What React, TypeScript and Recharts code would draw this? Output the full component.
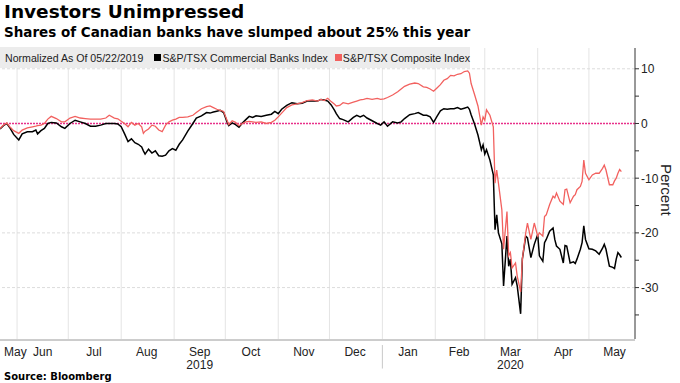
import { Line, LineChart, ReferenceLine, XAxis, YAxis } from 'recharts'

// daily-ish readings, normalized to 05/22/2019 (percent)
const dates = [
  '2019-05-22', '2019-05-24', '2019-05-26', '2019-05-28', '2019-05-30',
  '2019-06-02', '2019-06-04', '2019-06-07', '2019-06-10', '2019-06-12', '2019-06-13', '2019-06-15', '2019-06-17', '2019-06-19', '2019-06-21', '2019-06-24', '2019-06-27', '2019-06-29',
  '2019-07-02', '2019-07-05', '2019-07-08', '2019-07-11', '2019-07-14', '2019-07-17', '2019-07-20', '2019-07-23', '2019-07-25', '2019-07-28', '2019-07-30',
  '2019-08-01', '2019-08-03', '2019-08-05', '2019-08-07', '2019-08-09', '2019-08-11', '2019-08-13', '2019-08-14', '2019-08-15', '2019-08-17', '2019-08-19', '2019-08-21', '2019-08-23', '2019-08-25', '2019-08-27', '2019-08-29', '2019-08-31',
  '2019-09-02', '2019-09-04', '2019-09-06', '2019-09-09', '2019-09-12', '2019-09-14', '2019-09-17', '2019-09-20', '2019-09-22', '2019-09-24', '2019-09-26', '2019-09-28', '2019-09-30',
  '2019-10-02', '2019-10-03', '2019-10-05', '2019-10-07', '2019-10-09', '2019-10-11', '2019-10-13', '2019-10-15', '2019-10-17', '2019-10-19', '2019-10-22', '2019-10-25', '2019-10-28', '2019-10-30',
  '2019-11-01', '2019-11-03', '2019-11-06', '2019-11-09', '2019-11-12', '2019-11-15', '2019-11-18', '2019-11-21', '2019-11-24', '2019-11-26', '2019-11-28', '2019-11-30',
  '2019-12-02', '2019-12-04', '2019-12-05', '2019-12-07', '2019-12-09', '2019-12-12', '2019-12-15', '2019-12-17', '2019-12-19', '2019-12-21', '2019-12-23', '2019-12-26', '2019-12-29', '2019-12-31',
  '2020-01-02', '2020-01-04', '2020-01-07', '2020-01-10', '2020-01-12', '2020-01-14', '2020-01-17', '2020-01-20', '2020-01-22', '2020-01-25', '2020-01-27', '2020-01-29', '2020-01-31',
  '2020-02-02', '2020-02-04', '2020-02-06', '2020-02-08', '2020-02-10', '2020-02-12', '2020-02-14', '2020-02-16', '2020-02-18', '2020-02-20', '2020-02-21', '2020-02-22', '2020-02-24', '2020-02-26', '2020-02-28', '2020-02-29',
  '2020-03-01', '2020-03-02', '2020-03-04', '2020-03-06', '2020-03-07', '2020-03-08', '2020-03-09', '2020-03-11', '2020-03-12', '2020-03-14', '2020-03-15', '2020-03-16', '2020-03-17', '2020-03-19', '2020-03-20', '2020-03-22', '2020-03-23', '2020-03-25', '2020-03-26', '2020-03-28', '2020-03-30',
  '2020-04-01', '2020-04-02', '2020-04-04', '2020-04-05', '2020-04-06', '2020-04-08', '2020-04-10', '2020-04-11', '2020-04-12', '2020-04-14', '2020-04-16', '2020-04-17', '2020-04-18', '2020-04-20', '2020-04-22', '2020-04-23', '2020-04-24', '2020-04-26', '2020-04-27', '2020-04-28', '2020-04-29',
  '2020-05-01', '2020-05-03', '2020-05-05', '2020-05-07', '2020-05-09', '2020-05-10', '2020-05-11', '2020-05-13', '2020-05-15', '2020-05-16', '2020-05-17', '2020-05-18', '2020-05-19', '2020-05-20',
]

const banks = [
  -1.0, -0.4, 0.0, -0.9, -2.0,
  -3.0, -1.9, -1.5, -1.5, -1.2, -1.9, -1.3, -0.9, 0.0, 0.2, 0.1, -0.6, -0.9,
  0.0, 0.6, 0.3, 0.0, -0.5, -0.5, -0.3, 0.0, 0.0, 0.0, -0.1,
  -0.6, -1.9, -3.3, -2.8, -3.5, -3.8, -4.3, -5.0, -5.6, -4.7, -5.4, -5.0, -5.9, -6.0, -5.8, -5.0, -4.6,
  -4.9, -3.8, -3.0, -1.4, 0.0, 1.0, 1.4, 2.0, 1.9, 2.1, 2.25, 2.4, 2.0,
  0.3, -0.4, 0.1, -0.2, -0.7, 0.1, 0.7, 1.3, 1.1, 1.4, 1.3, 1.5, 1.7, 2.2,
  1.8, 2.6, 3.3, 3.8, 3.6, 3.7, 4.1, 4.1, 4.1, 4.4, 4.3, 4.1,
  3.4, 2.4, 1.8, 0.9, 0.7, 0.3, 1.1, 1.5, 1.2, 1.5, 1.0, 0.5, 0.0, -0.3,
  0.3, -0.5, 0.3, 0.1, 0.3, 0.9, 1.6, 1.8, 2.0, 1.5, 1.5, 1.2, 0.2,
  1.3, 2.3, 2.7, 2.6, 2.7, 2.7, 2.9, 2.6, 2.8, 3.0, 2.6, 1.6, -0.1, -2.1, -4.8, -3.9,
  -5.6, -4.8, -6.7, -9.4, -19.4, -16.7, -20.0, -22.0, -29.7, -20.6, -26.1, -24.8, -29.4, -28.2, -29.7, -34.8, -24.8, -20.6, -20.9, -24.5, -22.1,
  -20.3, -24.2, -25.2, -21.8, -21.2, -19.7, -19.1, -21.2, -22.4, -23.0, -25.5, -22.3, -22.4, -25.5, -25.3, -25.6, -24.8, -23.0, -21.8, -18.7, -21.2,
  -22.9, -23.0, -23.3, -23.9, -22.8, -22.1, -23.0, -26.1, -26.3, -26.5, -24.8, -23.6, -24.0, -24.5,
]

const composite = [
  -0.9, -0.3, 0.1, -0.7, -1.3,
  -1.8, -1.2, -0.8, -0.6, -0.5, -0.4, -0.3, 0.0, 0.8, 1.3, 0.9, 0.3, 0.3,
  1.0, 1.3, 1.0, 0.9, 0.8, 0.8, 0.8, 1.0, 1.5, 1.0, 0.85,
  0.4, 0.0, -0.6, 0.2, -0.3, 0.0, -0.6, -1.8, -1.4, -1.0, -0.3, -0.5, -1.2, -1.5, -0.3, 0.3, 0.6,
  0.8, 1.1, 1.1, 1.2, 1.5, 2.0, 2.7, 3.1, 3.2, 2.9, 2.6, 2.4, 2.2,
  0.6, -0.2, 0.5, 0.2, -0.4, 0.0, 0.3, 0.4, 0.3, 0.2, 0.3, 0.0, 0.2, 0.6,
  1.2, 1.9, 2.9, 3.4, 3.6, 3.8, 4.2, 4.3, 4.1, 4.4, 4.2, 4.6,
  4.0, 3.5, 3.2, 3.3, 3.8, 3.6, 3.9, 4.1, 4.3, 4.4, 4.6, 4.4, 4.6, 4.4,
  4.5, 4.75, 5.2, 5.8, 6.3, 6.8, 7.2, 7.4, 7.3, 6.7, 6.6, 6.3, 5.9,
  6.5, 7.1, 7.9, 8.2, 8.8, 8.7, 9.0, 9.1, 9.5, 9.6, 9.2, 7.3, 5.3, 3.2, -0.3, 1.2,
  0.6, 2.5, 1.5, -0.6, -10.9, -8.5, -10.9, -15.8, -23.0, -16.1, -24.2, -23.6, -26.4, -25.5, -27.9, -30.8, -24.8, -20.0, -18.2, -21.2, -18.2,
  -20.6, -20.0, -20.6, -17.0, -16.7, -14.8, -13.3, -13.6, -12.7, -14.2, -14.8, -12.1, -12.0, -14.5, -13.3, -13.0, -12.1, -11.5, -10.6, -6.7, -9.1,
  -10.3, -9.4, -9.1, -9.1, -8.2, -7.6, -8.5, -11.2, -11.2, -10.5, -10.0, -9.1, -8.4, -8.8,
]

const xRange = ['2019-05-22', '2020-05-28']
const monthStarts = [
  '2019-06-01', '2019-07-01', '2019-08-01', '2019-09-01', '2019-10-01', '2019-11-01',
  '2019-12-01', '2020-01-01', '2020-02-01', '2020-03-01', '2020-04-01', '2020-05-01',
]
const monthLabelDates = [
  '2019-05-31', '2019-06-16', '2019-07-16', '2019-08-16', '2019-09-16', '2019-10-16', '2019-11-16',
  '2019-12-16', '2020-01-16', '2020-02-15', '2020-03-16', '2020-04-16', '2020-05-16',
]
const monthLabels = ['May', 'Jun', 'Jul', 'Aug', 'Sep', 'Oct', 'Nov', 'Dec', 'Jan', 'Feb', 'Mar', 'Apr', 'May']
const yearLabelDates = ['2019-09-16', '2020-03-16']
const yearLabels = ['2019', '2020']
const yearBreak = '2020-01-01'

const yTicks = [-35, -30, -25, -20, -15, -10, -5, 0, 5, 10]
const yDomain = [-39.4, 13.8]
const gridValues = [10, -10, -20, -30]

const ts = (d: string) => Date.parse(`${d}T00:00:00Z`)

const data = dates.map((d, i) => ({ t: ts(d), banks: banks[i], composite: composite[i] }))

const SANS = "'Liberation Sans', Arial, sans-serif"
const BOLD = "'DejaVu Sans', Verdana, sans-serif"
const BLACK = '#000000'
const RED = '#f2615f'

function MonthTick({ x, y, payload }: any) {
  const i = monthLabelDates.findIndex((d) => ts(d) === payload.value)
  const yi = yearLabelDates.findIndex((d) => ts(d) === payload.value)
  return (
    <g>
      <text x={x} y={y + 17} textAnchor="middle" fontSize={12} fill="#222" fontFamily={SANS}>
        {monthLabels[i]}
      </text>
      {yi >= 0 && (
        <text x={x} y={y + 30} textAnchor="middle" fontSize={12} fill="#222" fontFamily={SANS}>
          {yearLabels[yi]}
        </text>
      )}
    </g>
  )
}

function PercentTick({ x, y, payload }: any) {
  if (payload.value % 10 !== 0) return null
  return (
    <text x={x} y={y + 4.5} textAnchor="start" fontSize={12} fill="#222" fontFamily={SANS}>
      {payload.value}
    </text>
  )
}

const swatch = (color: string, gap: number) => ({
  display: 'inline-block',
  flexShrink: 0,
  width: 7,
  height: 7,
  background: color,
  marginLeft: gap,
  marginRight: 1,
})

export default function App() {
  const xDomain = [ts(xRange[0]), ts(xRange[1])]
  return (
    <div style={{ position: 'absolute', left: 0, top: 0, width: 680, height: 383, background: '#fff' }}>
      <LineChart width={680} height={383} data={data} margin={{ top: 48, right: 0, bottom: 0, left: 0 }}>
        <XAxis
          xAxisId="l"
          dataKey="t"
          type="number"
          domain={xDomain}
          ticks={monthLabelDates.map(ts)}
          height={1}
          tickSize={0}
          tickMargin={0}
          tick={<MonthTick />}
          axisLine={false}
          tickLine={false}
          interval={0}
        />
        <XAxis
          xAxisId="m"
          dataKey="t"
          type="number"
          domain={xDomain}
          ticks={monthStarts.map(ts)}
          height={43}
          tick={false}
          tickSize={4}
          axisLine={{ stroke: '#9a9a9a' }}
          tickLine={{ stroke: '#9a9a9a' }}
          interval={0}
        />
        <YAxis
          yAxisId="r"
          orientation="right"
          width={45}
          domain={yDomain}
          ticks={yTicks}
          interval={0}
          tickSize={4}
          tickMargin={2}
          tick={<PercentTick />}
          axisLine={{ stroke: '#333' }}
          tickLine={{ stroke: '#333' }}
          allowDataOverflow
        />
        {monthStarts.map((d) => (
          <ReferenceLine key={d} xAxisId="m" yAxisId="r" x={ts(d)} stroke="#e4e4e4" />
        ))}
        {gridValues.map((v) => (
          <ReferenceLine key={v} xAxisId="m" yAxisId="r" y={v} stroke="#dcdcdc" strokeDasharray="3 2" />
        ))}
        <ReferenceLine
          xAxisId="m"
          yAxisId="r"
          ifOverflow="visible"
          segment={[
            { x: ts(yearBreak), y: yDomain[0] - 1.1 },
            { x: ts(yearBreak), y: yDomain[0] - 5.4 },
          ]}
          stroke="#c8c8c8"
        />
        <ReferenceLine xAxisId="m" yAxisId="r" y={0} stroke="#e8308a" strokeWidth={1.5} strokeDasharray="2 1" />
        <Line
          xAxisId="m"
          yAxisId="r"
          type="linear"
          dataKey="banks"
          stroke={BLACK}
          strokeWidth={1.5}
          dot={false}
          isAnimationActive={false}
        />
        <Line
          xAxisId="m"
          yAxisId="r"
          type="linear"
          dataKey="composite"
          stroke={RED}
          strokeWidth={1.3}
          dot={false}
          isAnimationActive={false}
        />
      </LineChart>

      <div style={{ position: 'absolute', left: 4, top: 1, fontFamily: BOLD, fontWeight: 'bold', fontSize: 18.5, color: '#000' }}>
        Investors Unimpressed
      </div>
      <div style={{ position: 'absolute', left: 4, top: 24, fontFamily: BOLD, fontWeight: 'bold', fontSize: 13.5, color: '#000' }}>
        Shares of Canadian banks have slumped about 25% this year
      </div>

      <div
        style={{
          position: 'absolute',
          left: 0,
          top: 47,
          width: 470,
          height: 21,
          background: '#ececec',
          display: 'flex',
          alignItems: 'center',
          fontFamily: SANS,
          fontSize: 10.6,
          color: '#222',
          whiteSpace: 'nowrap',
        }}
      >
        <span style={{ marginLeft: 5 }}>Normalized As Of 05/22/2019</span>
        <span style={swatch(BLACK, 11)} />
        <span>S&amp;P/TSX Commercial Banks Index</span>
        <span style={swatch(RED, 7)} />
        <span>S&amp;P/TSX Composite Index</span>
      </div>

      <div style={{ position: 'absolute', left: 658, top: 164, writingMode: 'vertical-rl', fontFamily: SANS, fontSize: 15, color: '#222' }}>
        Percent
      </div>

      <div style={{ position: 'absolute', left: 4, top: 371, fontFamily: BOLD, fontWeight: 'bold', fontSize: 10, color: '#000' }}>
        Source: Bloomberg
      </div>
    </div>
  )
}
